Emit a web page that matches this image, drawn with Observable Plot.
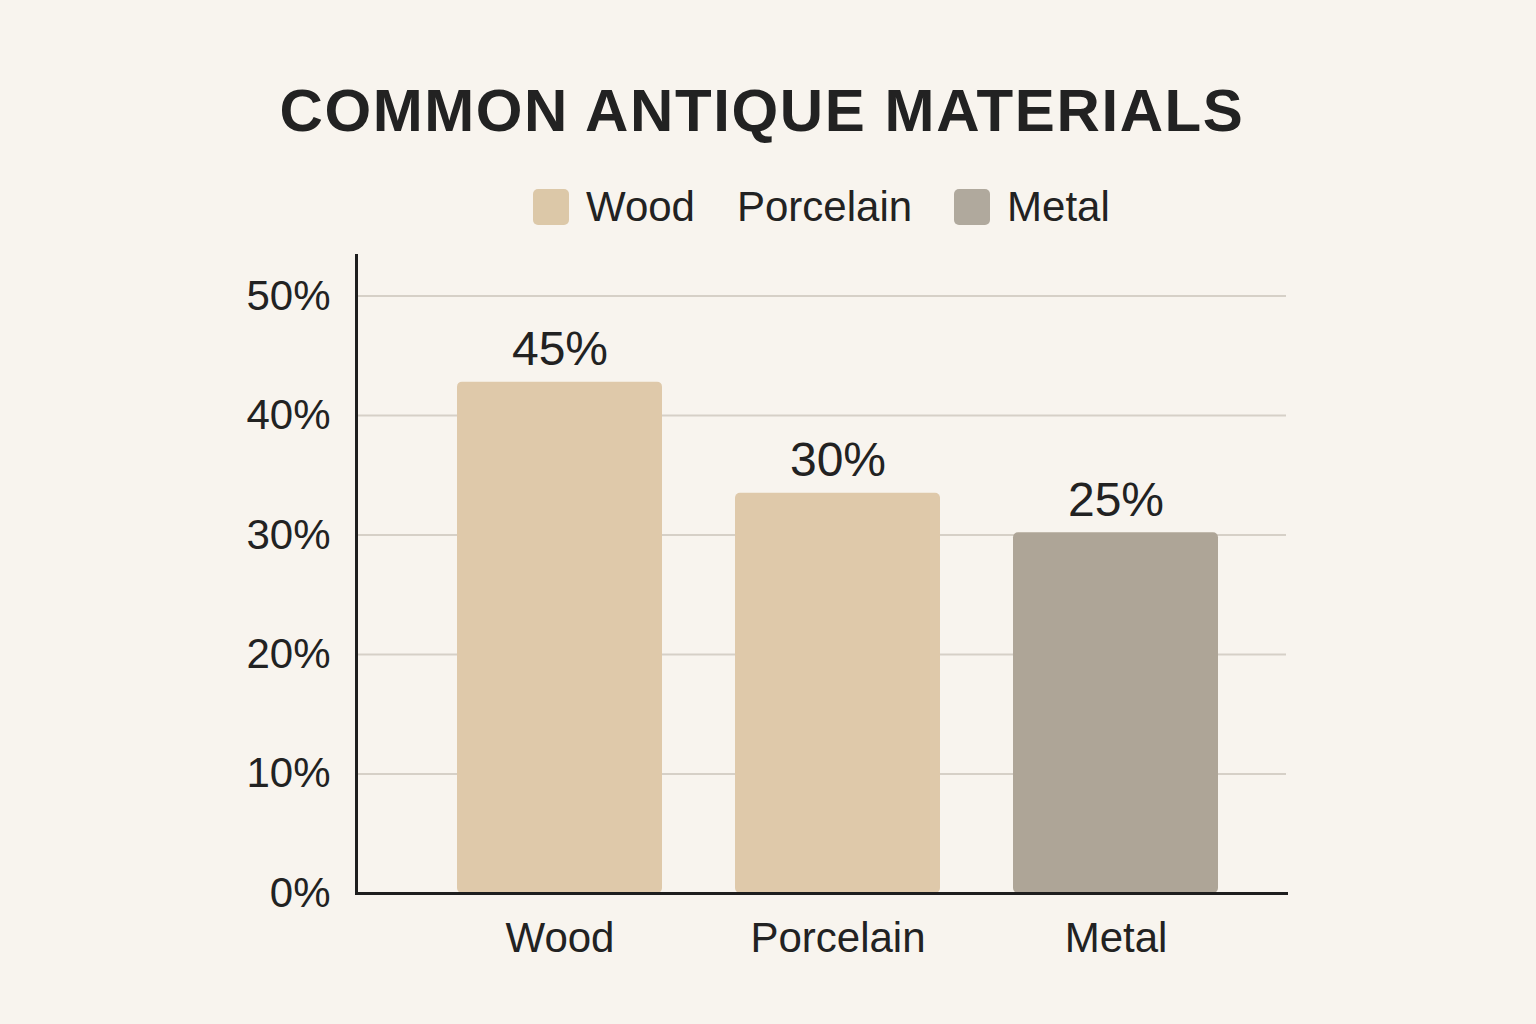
<!DOCTYPE html>
<html><head><meta charset="utf-8">
<script src="https://cdn.jsdelivr.net/npm/d3@7"></script>
<script src="https://cdn.jsdelivr.net/npm/@observablehq/plot@0.6"></script>
<style>
html,body{margin:0;padding:0;}
body{background:#f8f4ee;width:1536px;height:1024px;overflow:hidden;position:relative;font-family:"Liberation Sans",Arial,sans-serif;color:#222;}
#title{position:absolute;left:-6px;width:1536px;top:81px;text-align:center;font-size:60px;line-height:60px;font-weight:700;letter-spacing:1.6px;color:#222;}
#legend{position:absolute;left:533px;top:186px;display:flex;align-items:center;font-size:42px;line-height:42px;color:#222;}
.item{display:flex;align-items:center;margin-right:42px;}
.sw{width:36px;height:36px;border-radius:5px;margin-right:17px;}
#chart{position:absolute;left:0;top:0;}
</style>
</head><body>
<div id="title"></div>
<div id="legend"></div>
<div id="chart"></div>
<script>
const titleText = "COMMON ANTIQUE MATERIALS";
const categories = ["Wood", "Porcelain", "Metal"];
const barValues = [42.8, 33.5, 30.2];
const valueLabels = ["45%", "30%", "25%"];
const barColors = ["#dfc9aa", "#dfc9aa", "#aea597"];
const yTicks = [0, 10, 20, 30, 40, 50];
const legendNames = ["Wood", "Porcelain", "Metal"];
const legendColors = ["#dcc8a8", null, "#b0a99d"];

document.getElementById("title").textContent = titleText;
const leg = document.getElementById("legend");
legendNames.forEach((n, i) => {
  const it = document.createElement("div");
  it.className = "item";
  if (legendColors[i]) {
    const s = document.createElement("div");
    s.className = "sw";
    s.style.background = legendColors[i];
    it.appendChild(s);
  }
  const t = document.createElement("span");
  t.textContent = n;
  it.appendChild(t);
  leg.appendChild(it);
});

const data = categories.map((c, i) => ({category: c, value: barValues[i], label: valueLabels[i], color: barColors[i]}));

const chart = Plot.plot({
  width: 1536,
  height: 1024,
  marginTop: 255,
  marginBottom: 131,
  marginLeft: 356,
  marginRight: 250,
  style: {background: "transparent", fontFamily: "'Liberation Sans', Arial, sans-serif", fontSize: "42px", color: "#222"},
  x: {domain: categories, paddingInner: 0.262, paddingOuter: 0.2977, align: 0.596, label: null},
  y: {domain: [0, 53.4], label: null},
  color: {type: "identity"},
  marks: [
    Plot.ruleY(yTicks.filter(d => d > 0), {stroke: "#d6d0c7", strokeWidth: 2}),
    Plot.barY(data, {x: "category", y: "value", fill: "color", rx: 5}),
    Plot.text(data, {x: "category", y: "value", text: "label", dy: -17, lineAnchor: "bottom", fontSize: 48, fill: "#222"}),
    Plot.axisY({ticks: yTicks, tickFormat: d => d + "%", tickSize: 0, tickPadding: 26, fontSize: 42, label: null, fill: "#222"}),
    Plot.axisX({tickSize: 0, tickPadding: 29, fontSize: 42, label: null, fill: "#222"}),
    Plot.frame({anchor: "left", stroke: "#1e1e1e", strokeWidth: 3}),
    Plot.frame({anchor: "bottom", stroke: "#1e1e1e", strokeWidth: 3})
  ]
});
document.getElementById("chart").appendChild(chart);
</script>
</body></html>
